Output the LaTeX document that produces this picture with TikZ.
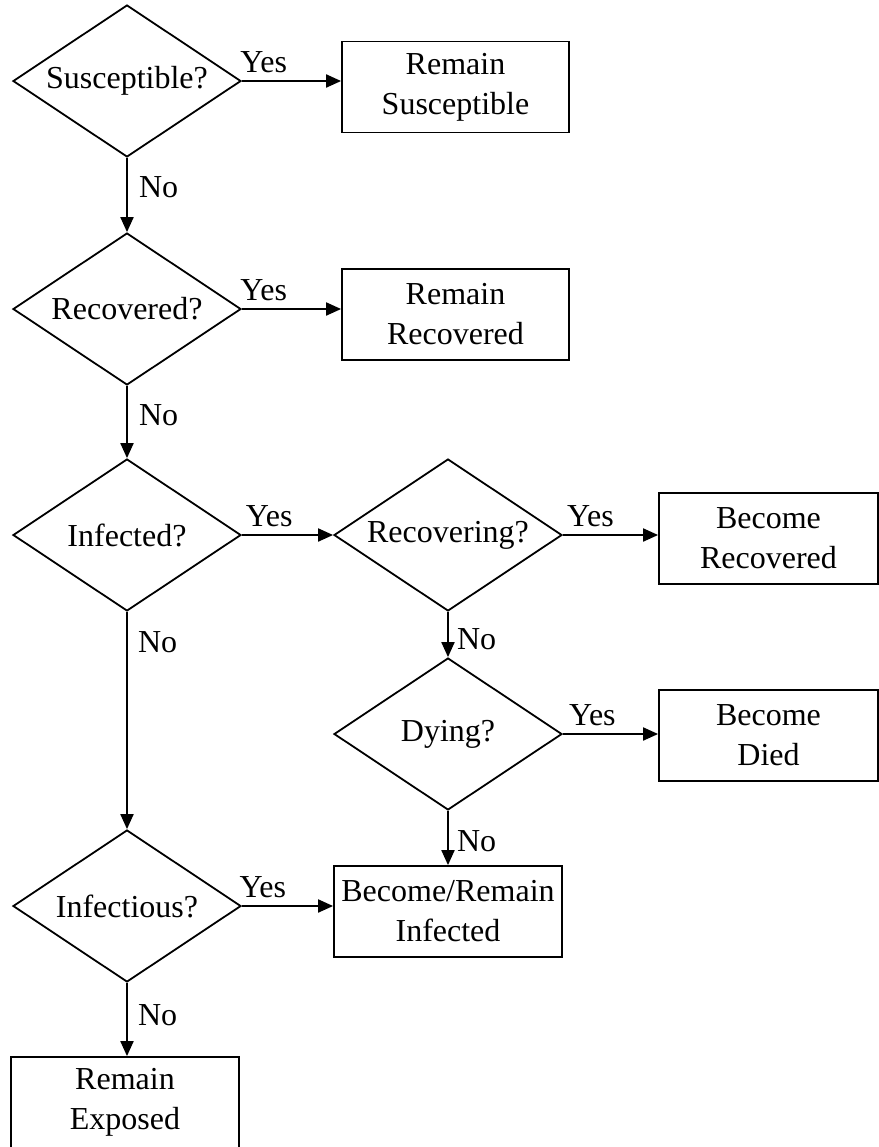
\documentclass[tikz,border=0pt]{standalone}
\usepackage{fontspec}
\setmainfont{Liberation Serif}
\usetikzlibrary{shapes.geometric, arrows.meta}

\tikzset{
    decision/.style={diamond, draw, line width=0.9pt, inner sep=0pt, aspect=1.5,
        minimum width=114pt, minimum height=76pt, font=\fontsize{16}{20}\selectfont},
    outcome/.style={rectangle, draw, line width=0.9pt, inner sep=2pt, align=center,
        minimum width=113.5pt, minimum height=45.5pt, font=\fontsize{16}{20}\selectfont},
    flow/.style={line width=1pt, -{Triangle[length=7.5pt, width=6.5pt]}},
    answer/.style={inner sep=1pt, font=\fontsize{16}{20}\selectfont}
}

\begin{document}
\begin{tikzpicture}[x=0.5pt, y=-0.5pt]
    \useasboundingbox (0,0) rectangle (879,1147);
    \clip (0,0) rectangle (879,1147);

    % Questions
    \node[decision] (susc) at (127,81) {Susceptible?};
    \node[decision] (recd) at (127,309) {Recovered?};
    \node[decision] (inf) at (127,535) {Infected?};
    \node[decision] (recg) at (448,535) {Recovering?};
    \node[decision] (dying) at (448,734) {Dying?};
    \node[decision] (infs) at (127,906) {Infectious?};

    % Outcomes
    \node[outcome] (remS) at (455.5,87) {Remain\\Susceptible};
    \node[outcome] (remR) at (455.5,314.5) {Remain\\Recovered};
    \node[outcome, minimum width=109.5pt] (becR) at (768.5,538.5) {Become\\Recovered};
    \node[outcome, minimum width=109.5pt] (becD) at (768.5,735.5) {Become\\Died};
    \node[outcome, minimum width=114pt] (becI) at (448,911.5) {Become/Remain\\Infected};
    \node[outcome, minimum width=114pt] (remE) at (125,1102.5) {Remain\\Exposed};

    % Yes branches
    \draw[flow] (susc.east) -- (susc.east -| remS.west) node[answer, pos=.22, above=2.5pt] {Yes};
    \draw[flow] (recd.east) -- (recd.east -| remR.west) node[answer, pos=.22, above=2.5pt] {Yes};
    \draw[flow] (inf) -- (recg) node[answer, pos=.3, above=2.5pt] {Yes};
    \draw[flow] (recg.east) -- (recg.east -| becR.west) node[answer, pos=.29, above=2.5pt] {Yes};
    \draw[flow] (dying.east) -- (dying.east -| becD.west) node[answer, pos=.31, above=2.5pt] {Yes};
    \draw[flow] (infs.east) -- (infs.east -| becI.west) node[answer, pos=.23, above=2.5pt] {Yes};

    % No branches
    \draw[flow] (susc) -- (recd) node[answer, pos=.4, right=4.5pt] {No};
    \draw[flow] (recd) -- (inf) node[answer, pos=.41, right=4.5pt] {No};
    \draw[flow] (inf) -- (infs) node[answer, pos=.14, right=4pt] {No};
    \draw[flow] (recg) -- (dying) node[answer, pos=.6, right=3pt] {No};
    \draw[flow] (dying) -- (becI) node[answer, pos=.55, right=3pt] {No};
    \draw[flow] (infs.south) -- (infs.south |- remE.north) node[answer, pos=.44, right=4pt] {No};

\end{tikzpicture}
\end{document}
